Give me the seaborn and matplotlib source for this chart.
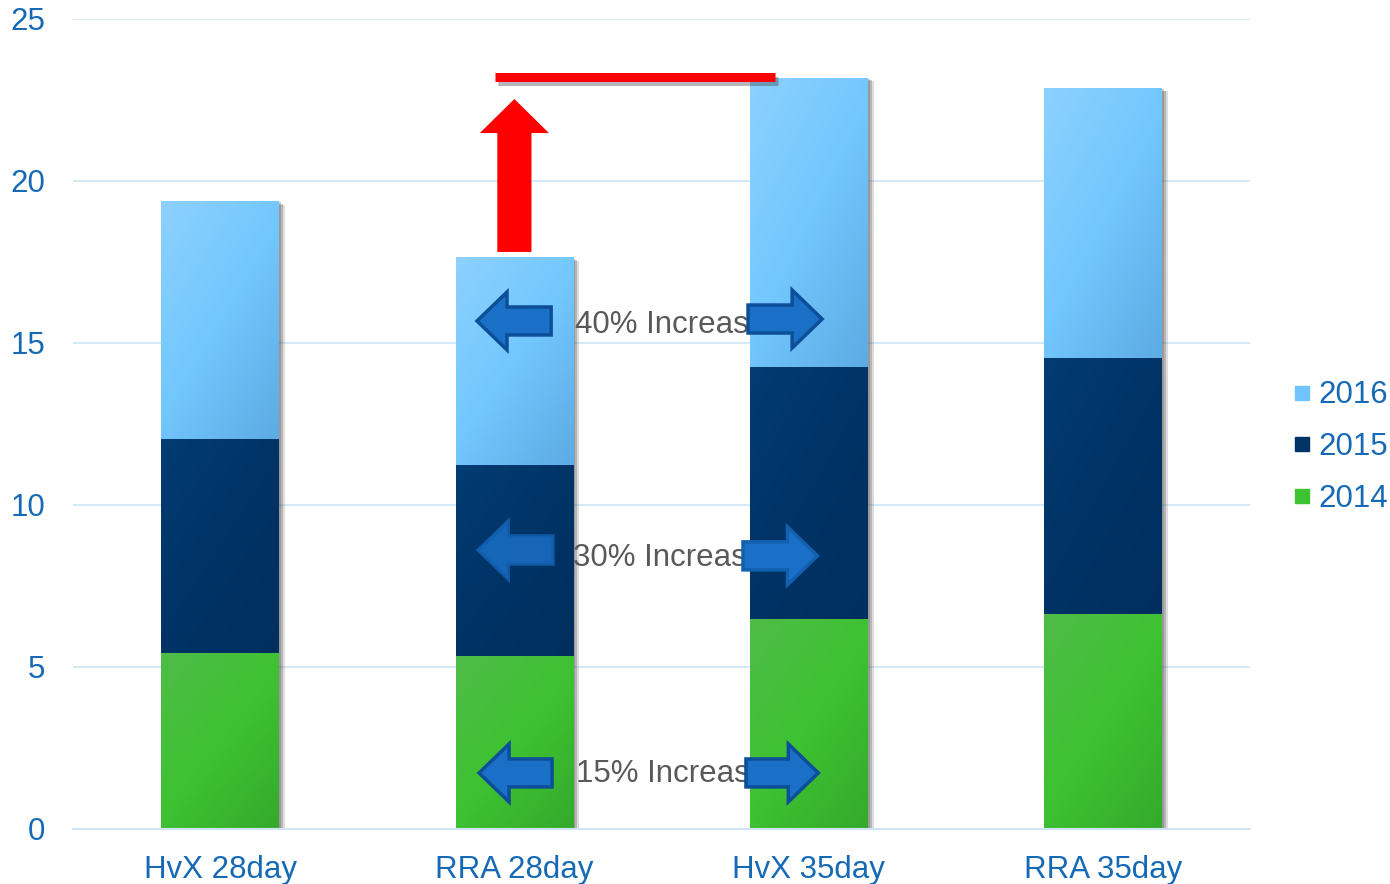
import numpy as np
import pandas as pd
import seaborn as sns
import matplotlib
matplotlib.use("Agg")
import matplotlib.pyplot as plt
from matplotlib import patheffects as pe
from matplotlib.patches import FancyArrow
from matplotlib.colors import LinearSegmentedColormap
from matplotlib.lines import Line2D

# ---- data ----
categories = ["HvX 28day", "RRA 28day", "HvX 35day", "RRA 35day"]
years = ["2014", "2015", "2016"]
v2014 = [5.43, 5.34, 6.48, 6.64]
v2015 = [6.61, 5.89, 7.78, 7.90]
v2016 = [7.34, 6.42, 8.92, 8.33]
increase_labels = ["15% Increase", "30% Increase", "40% Increase"]

# ---- style ----
sns.set_theme(style="white")
plt.rcParams["font.family"] = ["Liberation Sans", "DejaVu Sans"]

BLUE_TEXT = "#166ab5"
GRID = "#d5eaf8"
FS = 22.5
base_colors = {"2014": "#3ec232", "2015": "#003366", "2016": "#70c6fc"}
grad_stops = {
    "2014": ["#4fbc48", "#3ec232", "#35aa2c"],
    "2015": ["#023c72", "#003366", "#002f5f"],
    "2016": ["#8dd1ff", "#72c7fd", "#5dabe4"],
}

df = pd.DataFrame({"category": categories, "2014": v2014, "2015": v2015, "2016": v2016})
df["top2014"] = df["2014"]
df["top2015"] = df["top2014"] + df["2015"]
df["top2016"] = df["top2015"] + df["2016"]

fig = plt.figure(figsize=(13.9, 8.84), dpi=100)
ax = fig.add_axes([73 / 1390, 55 / 884, 1177 / 1390, 810 / 884])

shadow = [
    pe.SimplePatchShadow(offset=(1.5, -1.0), shadow_rgbFace="#444444", alpha=0.25),
    pe.SimplePatchShadow(offset=(3.0, -1.8), shadow_rgbFace="#444444", alpha=0.25),
    pe.SimplePatchShadow(offset=(4.5, -2.5), shadow_rgbFace="#444444", alpha=0.18),
    pe.Normal(),
]

# stacked segments: upper segments first so lower ones sit above their shadows
segments = [("2016", "top2016", "top2015"), ("2015", "top2015", "top2014"), ("2014", "top2014", None)]
z = 2.0
for year, top_col, bottom_col in segments:
    n0 = len(ax.patches)
    sns.barplot(data=df, x="category", y=top_col, order=categories, color=base_colors[year],
                saturation=1, width=0.4, errorbar=None, linewidth=0, ax=ax)
    bottoms = df[bottom_col].values if bottom_col else np.zeros(len(df))
    cmap = LinearSegmentedColormap.from_list("g" + year, grad_stops[year])
    for p, b in zip(ax.patches[n0:], bottoms):
        top = p.get_y() + p.get_height()
        p.set_y(b)
        p.set_height(top - b)
        p.set_zorder(z)
        p.set_path_effects(shadow)
        x0 = p.get_x()
        x1 = x0 + p.get_width()
        u = np.linspace(0, 1, 60)[None, :]
        v = np.linspace(0, 1, 160)[:, None]
        grad = 0.45 * u + 0.55 * v
        im = ax.imshow(grad, extent=[x0, x1, b, top], origin="upper", cmap=cmap,
                       vmin=0, vmax=1, aspect="auto", interpolation="bilinear", zorder=z + 0.01)
        im.set_clip_path(p)
    z += 0.1

# ---- axes ----
ax.set_xlim(-0.5, 3.5)
ax.set_ylim(0, 25)
ax.set_yticks([0, 5, 10, 15, 20, 25])
ax.set_xlabel("")
ax.set_ylabel("")
ax.yaxis.grid(True, color=GRID, linewidth=1.5)
ax.xaxis.grid(False)
ax.set_axisbelow(True)
for s in ["left", "right", "top"]:
    ax.spines[s].set_visible(False)
ax.spines["bottom"].set_color("#cfe5f6")
ax.spines["bottom"].set_linewidth(1.5)
ax.tick_params(axis="y", length=0, pad=20, labelsize=FS, labelcolor=BLUE_TEXT)
ax.tick_params(axis="x", which="major", length=0, pad=18.5, labelsize=FS, labelcolor=BLUE_TEXT)
ax.set_xticks([-0.5, 0.5, 1.5, 2.5, 3.5], minor=True)
ax.tick_params(axis="x", which="minor", length=7, width=1.5, color="#cfe5f6", direction="out")

# ---- annotations ----
ax.plot([0.935, 1.886], [23.2, 23.2], color="#ff0000", lw=6.5, solid_capstyle="butt", zorder=6,
        path_effects=[pe.SimpleLineShadow(offset=(2, -2.5), shadow_color="#333333", alpha=0.35), pe.Normal()])
ax.add_patch(FancyArrow(1.0, 17.81, 0, 22.53 - 17.81, width=0.116, head_width=0.235,
                        head_length=1.05, length_includes_head=True, color="#ff0000", lw=0, zorder=6))


def block_arrow(x_tail, x_tip, y, edge="#0c4f98", alpha=1.0):
    ax.add_patch(FancyArrow(x_tail, y, x_tip - x_tail, 0, width=0.864, head_width=1.79,
                            head_length=0.102, length_includes_head=True,
                            facecolor="#1a6fc6", edgecolor=edge, lw=2.5,
                            alpha=alpha, zorder=8))


text_pos = [(1.21, 1.70), (1.20, 8.37), (1.206, 15.56)]
for label, (tx, ty) in zip(increase_labels, text_pos):
    ax.text(tx, ty, label, color="#595959", fontsize=FS, ha="left", va="center", zorder=7)

block_arrow(1.128, 0.880, 1.73)
block_arrow(1.787, 2.033, 1.73)
block_arrow(1.131, 0.877, 8.61, edge="#1260b0", alpha=0.85)
block_arrow(1.777, 2.030, 8.43, edge="#1260b0")
block_arrow(1.125, 0.873, 15.68)
block_arrow(1.794, 2.046, 15.74)

# ---- legend ----
handles = [Line2D([], [], marker="s", linestyle="", markersize=10,
                  markerfacecolor=base_colors[y], markeredgecolor=base_colors[y]) for y in reversed(years)]
fig.legend(handles, list(reversed(years)), loc="center left", bbox_to_anchor=(1293 / 1390, 1 - 447 / 884),
           frameon=False, fontsize=FS, labelcolor=BLUE_TEXT, handlelength=0.6, handletextpad=0.2,
           labelspacing=0.69, borderaxespad=0, borderpad=0)

fig.savefig("out.png", dpi=100)
